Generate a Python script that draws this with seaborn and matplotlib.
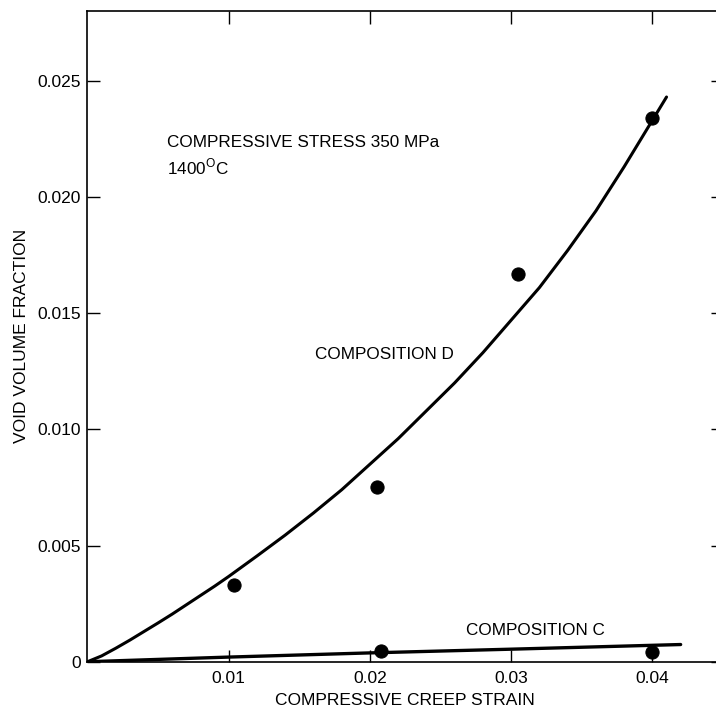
import matplotlib
matplotlib.use("Agg")
import matplotlib.pyplot as plt
import seaborn as sns
import pandas as pd

d_strain = [0.0104, 0.0205, 0.0305, 0.0400]
d_void = [0.0033, 0.0075, 0.0167, 0.0234]
c_strain = [0.0208, 0.0400]
c_void = [0.00045, 0.00040]

# Hand-drawn fit curves
d_curve_x = [0.0, 0.001, 0.002, 0.003, 0.004, 0.005, 0.006, 0.007, 0.008, 0.009,
             0.010, 0.012, 0.014, 0.016, 0.018, 0.020, 0.022, 0.024, 0.026,
             0.028, 0.030, 0.032, 0.034, 0.036, 0.038, 0.040, 0.041]
d_curve_y = [0.0, 0.00025, 0.00058, 0.00093, 0.0013, 0.00167, 0.00205, 0.00245,
             0.00285, 0.00325, 0.00367, 0.00455, 0.00545, 0.0064, 0.0074, 0.0085,
             0.0096, 0.0108, 0.0120, 0.0133, 0.0147, 0.0161, 0.0177, 0.0194,
             0.0213, 0.0233, 0.0243]
c_curve_x = [0.0, 0.010, 0.020, 0.030, 0.042]
c_curve_y = [0.0, 0.0002, 0.00038, 0.00054, 0.00074]

x_ticks = [0.01, 0.02, 0.03, 0.04]
x_labels = ["0.01", "0.02", "0.03", "0.04"]
y_ticks = [0.0, 0.005, 0.010, 0.015, 0.020, 0.025]
y_labels = ["0", "0.005", "0.010", "0.015", "0.020", "0.025"]

sns.set_style("ticks")
plt.rcParams["font.family"] = ["Liberation Sans", "DejaVu Sans"]
plt.rcParams["mathtext.fontset"] = "custom"
plt.rcParams["mathtext.rm"] = "Liberation Sans"
plt.rcParams["text.color"] = "black"
plt.rcParams["axes.labelcolor"] = "black"

fig = plt.figure(figsize=(7.16, 7.11), dpi=100)
ax = fig.add_axes([0.1222, 0.0693, 0.8876, 0.9152])

# Fitted curves
sns.lineplot(x=d_curve_x, y=d_curve_y, ax=ax, color="black", linewidth=2.2, sort=False)
sns.lineplot(x=c_curve_x, y=c_curve_y, ax=ax, color="black", linewidth=2.4, sort=False)

# Data points
pts = pd.DataFrame({"strain": d_strain + c_strain, "void": d_void + c_void})
sns.scatterplot(data=pts, x="strain", y="void", ax=ax, color="black", s=90,
                edgecolor="black", zorder=5)

ax.set_xlim(0, 0.045)
ax.set_ylim(0, 0.028)
ax.set_xticks(x_ticks, labels=x_labels)
ax.set_yticks(y_ticks, labels=y_labels)
ax.tick_params(direction="in", length=9, width=1, labelsize=12.5,
               top=True, right=True, colors="black")
ax.tick_params(axis="x", pad=7)
ax.tick_params(axis="y", pad=5)
for sp in ax.spines.values():
    sp.set_linewidth(1.2)
    sp.set_color("black")

ax.set_xlabel("COMPRESSIVE CREEP STRAIN", fontsize=12.5, labelpad=5)
ax.set_ylabel("VOID VOLUME FRACTION", fontsize=12.5, labelpad=6)

ax.text(0.0056, 0.02236, "COMPRESSIVE STRESS 350 MPa", fontsize=12.3, va="center")
ax.text(0.0056, 0.02130, r"1400$^{\mathregular{O}}$C", fontsize=12.3, va="center")
ax.text(0.0161, 0.01322, "COMPOSITION D", fontsize=12.3, va="center")
ax.text(0.0268, 0.00134, "COMPOSITION C", fontsize=12.3, va="center")

plt.savefig("out.png", dpi=100)
